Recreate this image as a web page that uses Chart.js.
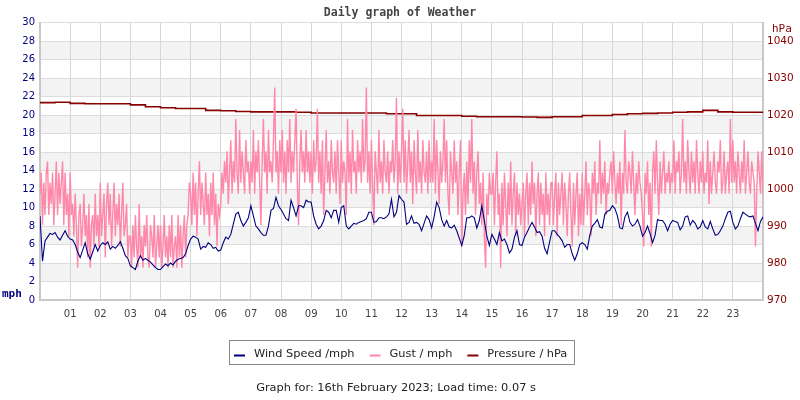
<!DOCTYPE html>
<html>
<head>
<meta charset="utf-8">
<title>Daily graph of Weather</title>
<script src="https://cdn.jsdelivr.net/npm/chart.js@4.4.1/dist/chart.umd.min.js"></script>
<style>
  html, body { margin: 0; padding: 0; background: #fff; }
</style>
</head>
<body>
<canvas id="weatherChart" width="800" height="400"></canvas>
<script>
// wind speed (mph), one reading every 5 minutes from 00:00 to 24:00
const windSpeed = [
    9.1, 4.2, 6.4, 6.8, 7.2, 7.1, 7.3, 6.8, 6.5, 7.0, 7.5, 6.9,
    6.6, 6.5, 6.0, 5.2, 4.6, 5.4, 6.2, 5.0, 4.4, 5.2, 6.0, 5.3,
    5.9, 6.2, 6.0, 6.3, 5.5, 5.8, 5.6, 5.9, 6.3, 5.6, 4.8, 4.5,
    3.7, 3.5, 3.3, 4.2, 4.8, 4.3, 4.5, 4.3, 4.1, 3.8, 3.5, 3.3,
    3.3, 3.6, 3.9, 3.7, 4.0, 3.8, 4.2, 4.4, 4.5, 4.6, 5.0, 5.9,
    6.6, 6.9, 6.8, 6.6, 5.5, 5.8, 5.7, 6.2, 6.0, 5.6, 5.7, 5.3,
    5.4, 6.2, 6.8, 6.6, 7.1, 8.2, 9.3, 9.5, 8.6, 8.0, 8.4, 8.9,
    10.2, 9.1, 8.0, 7.7, 7.3, 7.0, 7.0, 8.0, 9.7, 9.9, 11.1, 10.2,
    9.8, 9.3, 8.8, 8.6, 10.8, 10.0, 9.1, 10.2, 10.2, 10.0, 10.8, 10.6,
    10.6, 9.1, 8.2, 7.7, 8.0, 8.6, 9.7, 9.5, 8.9, 9.7, 9.7, 8.4,
    10.0, 10.2, 8.0, 7.7, 8.0, 8.3, 8.2, 8.4, 8.5, 8.6, 8.8, 9.5,
    9.5, 8.4, 8.5, 8.9, 8.9, 8.8, 9.0, 9.3, 10.9, 9.0, 9.5, 11.3,
    10.9, 10.6, 8.2, 8.4, 9.1, 8.3, 8.4, 8.2, 7.5, 8.3, 9.1, 8.7,
    7.8, 9.0, 10.6, 10.0, 8.7, 8.0, 8.6, 7.9, 7.8, 8.1, 7.5, 6.7,
    5.9, 7.0, 8.9, 8.9, 9.1, 8.9, 7.8, 8.6, 10.2, 8.6, 6.9, 5.9,
    7.1, 6.6, 6.0, 7.3, 6.4, 6.6, 6.0, 5.1, 5.5, 6.8, 7.5, 6.0,
    5.9, 6.8, 7.3, 7.9, 8.4, 7.9, 7.3, 7.4, 6.9, 5.6, 5.0, 6.3,
    7.5, 7.5, 7.1, 6.8, 6.4, 5.7, 6.0, 6.0, 5.0, 4.3, 5.0, 6.0,
    6.2, 6.0, 5.5, 7.0, 8.0, 8.3, 8.7, 7.9, 7.8, 9.3, 9.6, 9.7,
    10.2, 9.9, 9.1, 7.8, 7.7, 9.0, 9.5, 8.4, 8.0, 8.2, 8.7, 8.0,
    6.9, 7.3, 8.0, 7.2, 6.2, 7.0, 8.7, 8.6, 8.6, 8.2, 7.5, 8.2,
    8.6, 8.5, 8.4, 7.6, 8.0, 9.0, 9.1, 8.1, 8.6, 8.3, 7.7, 7.9,
    8.6, 7.9, 7.7, 8.5, 7.7, 7.0, 7.1, 7.5, 8.0, 8.8, 9.5, 9.6,
    8.4, 7.7, 8.0, 8.8, 9.5, 9.3, 9.1, 9.0, 9.1, 8.3, 7.5, 8.5,
    9.0
];

// gusts (mph), one reading every 2.5 minutes
const gustSpeed = [
    11.5, 13.8, 8.1, 12.7, 9.2, 13.8, 15.0, 9.2, 12.7, 10.4, 13.8, 8.1, 11.5, 15.0, 9.2, 13.8, 10.4, 12.7, 15.0, 8.1, 13.8, 9.2, 11.5, 6.9,
    13.8, 9.2, 10.4, 6.9, 11.5, 8.1, 3.5, 9.2, 10.4, 5.8, 8.1, 11.5, 6.9, 9.2, 4.6, 10.4, 3.5, 8.1, 9.2, 5.8, 11.5, 6.9, 9.2, 5.8,
    12.7, 6.9, 9.2, 11.5, 4.6, 10.4, 12.7, 8.1, 11.5, 5.8, 9.2, 12.7, 6.9, 10.4, 8.1, 11.5, 5.8, 9.2, 12.7, 6.9, 8.1, 10.4, 4.6, 6.9,
    6.9, 3.5, 8.1, 4.6, 9.2, 5.8, 3.5, 10.4, 4.6, 6.9, 3.5, 8.1, 5.8, 9.2, 4.6, 3.5, 8.1, 6.9, 4.6, 9.2, 3.5, 5.8, 8.1, 4.6,
    8.1, 3.5, 5.8, 9.2, 4.6, 6.9, 3.5, 8.1, 4.6, 9.2, 3.5, 5.8, 6.9, 3.5, 9.2, 4.6, 8.1, 3.5, 6.9, 9.2, 4.6, 8.1, 9.2, 12.7,
    11.5, 8.1, 13.8, 9.2, 12.7, 6.9, 11.5, 15.0, 9.2, 12.7, 10.4, 8.1, 13.8, 9.2, 11.5, 6.9, 12.7, 9.2, 13.8, 8.1, 11.5, 5.8, 10.4, 9.2,
    10.4, 13.8, 11.5, 15.0, 12.7, 16.1, 10.4, 13.8, 17.3, 11.5, 15.0, 12.7, 19.6, 13.8, 11.5, 18.4, 12.7, 16.1, 13.8, 11.5, 17.3, 13.8, 15.0, 11.5,
    15.0, 12.7, 18.4, 11.5, 16.1, 13.8, 17.3, 12.7, 8.1, 15.0, 19.6, 13.8, 16.1, 11.5, 18.4, 13.8, 15.0, 12.7, 17.3, 23.0, 13.8, 16.1, 11.5, 17.3,
    13.8, 18.4, 12.7, 16.1, 11.5, 17.3, 13.8, 19.6, 12.7, 16.1, 13.8, 17.3, 20.7, 12.7, 8.1, 15.0, 18.4, 13.8, 16.1, 12.7, 18.4, 13.8, 16.1, 12.7,
    16.1, 11.5, 17.3, 13.8, 15.0, 20.7, 12.7, 16.1, 11.5, 17.3, 9.2, 13.8, 18.4, 12.7, 15.0, 11.5, 17.3, 13.8, 12.7, 16.1, 11.5, 17.3, 13.8, 10.4,
    17.3, 12.7, 15.0, 13.8, 9.2, 19.6, 12.7, 16.1, 11.5, 18.4, 13.8, 15.0, 11.5, 17.3, 13.8, 16.1, 12.7, 19.6, 13.8, 15.0, 23.0, 12.7, 16.1, 11.5,
    17.3, 12.7, 8.1, 16.1, 13.8, 11.5, 18.4, 12.7, 15.0, 11.5, 17.3, 13.8, 12.7, 16.1, 11.5, 15.0, 13.8, 17.3, 12.7, 15.0, 21.9, 11.5, 16.1, 12.7,
    16.1, 20.7, 12.7, 17.3, 11.5, 15.0, 18.4, 12.7, 16.1, 10.4, 17.3, 13.8, 11.5, 18.4, 12.7, 15.0, 11.5, 17.3, 13.8, 12.7, 16.1, 11.5, 17.3, 12.7,
    15.0, 12.7, 19.6, 11.5, 17.3, 13.8, 10.4, 16.1, 12.7, 15.0, 19.6, 12.7, 17.3, 11.5, 9.2, 16.1, 13.8, 11.5, 17.3, 12.7, 15.0, 9.2, 13.8, 17.3,
    5.8, 11.5, 13.8, 9.2, 15.0, 10.4, 17.3, 12.7, 19.6, 11.5, 15.0, 9.2, 13.8, 16.1, 10.4, 12.7, 8.1, 13.8, 6.9, 3.5, 11.5, 9.2, 13.8, 11.5,
    11.5, 13.8, 8.1, 12.7, 16.1, 9.2, 11.5, 3.5, 12.7, 8.1, 13.8, 10.4, 6.9, 12.7, 9.2, 15.0, 8.1, 11.5, 13.8, 6.9, 12.7, 9.2, 11.5, 8.1,
    10.4, 12.7, 6.9, 11.5, 13.8, 8.1, 12.7, 9.2, 15.0, 10.4, 12.7, 6.9, 11.5, 13.8, 8.1, 12.7, 9.2, 11.5, 6.9, 13.8, 9.2, 11.5, 8.1, 12.7,
    12.7, 8.1, 11.5, 13.8, 6.9, 12.7, 9.2, 11.5, 13.8, 8.1, 12.7, 10.4, 6.9, 11.5, 13.8, 9.2, 5.8, 12.7, 8.1, 11.5, 13.8, 6.9, 11.5, 8.1,
    13.8, 8.1, 11.5, 15.0, 9.2, 12.7, 11.5, 6.9, 13.8, 11.5, 15.0, 9.2, 12.7, 11.5, 17.3, 10.4, 13.8, 11.5, 15.0, 9.2, 12.7, 11.5, 13.8, 15.0,
    11.5, 16.1, 12.7, 10.4, 13.8, 11.5, 15.0, 8.1, 13.8, 11.5, 18.4, 12.7, 11.5, 15.0, 13.8, 11.5, 16.1, 12.7, 9.2, 13.8, 11.5, 15.0, 12.7, 11.5,
    9.2, 5.8, 13.8, 11.5, 15.0, 9.2, 12.7, 5.8, 13.8, 16.1, 11.5, 17.3, 12.7, 9.2, 15.0, 11.5, 13.8, 16.1, 11.5, 13.8, 12.7, 15.0, 11.5, 13.8,
    12.7, 17.3, 11.5, 15.0, 13.8, 16.1, 11.5, 13.8, 19.6, 12.7, 15.0, 11.5, 17.3, 13.8, 11.5, 16.1, 12.7, 15.0, 11.5, 17.3, 13.8, 11.5, 15.0, 12.7,
    16.1, 11.5, 13.8, 12.7, 17.3, 10.4, 15.0, 11.5, 13.8, 16.1, 12.7, 11.5, 15.0, 13.8, 17.3, 11.5, 12.7, 16.1, 11.5, 13.8, 15.0, 11.5, 19.6, 12.7,
    17.3, 12.7, 15.0, 11.5, 16.1, 13.8, 11.5, 15.0, 12.7, 17.3, 11.5, 13.8, 16.1, 12.7, 11.5, 15.0, 13.8, 12.7, 5.8, 11.5, 16.1, 13.8, 11.5, 16.1,
    11.5
];

// pressure (hPa), one reading every 30 minutes
const pressure = [
    1023.4, 1023.5, 1023.2, 1023.1, 1023.1, 1023.1, 1022.8, 1022.3,
    1022.0, 1021.8, 1021.8, 1021.3, 1021.2, 1021.0, 1020.9, 1020.9,
    1020.9, 1020.8, 1020.6, 1020.6, 1020.6, 1020.6, 1020.6, 1020.4,
    1020.4, 1019.9, 1019.9, 1019.9, 1019.7, 1019.6, 1019.6, 1019.6,
    1019.5, 1019.4, 1019.6, 1019.6, 1019.9, 1019.9, 1020.2, 1020.4,
    1020.5, 1020.6, 1020.8, 1020.9, 1021.3, 1020.9, 1020.8, 1020.8,
    1020.8
];

// hour labels along the bottom
const hourLabels = ['01', '02', '03', '04', '05', '06', '07', '08', '09', '10', '11', '12',
    '13', '14', '15', '16', '17', '18', '19', '20', '21', '22', '23'];

const seriesLabels = ['Wind Speed /mph', 'Gust / mph', 'Pressure / hPa'];
const seriesColors = ['#000080', '#ff88aa', '#880000'];
const footerText = 'Graph for: 16th February 2023; Load time: 0.07 s';

/**
 * turn a list of readings into {x, y} points, x in hours
 */
function toPoints(values, stepHours) {
    return values.map((v, i) => ({ x: i * stepHours, y: v }));
}

// shaded bands, unit labels, legend box and footer
const decorPlugin = {
    id: 'decor',
    beforeDraw(chart) {
        const { ctx, chartArea, scales } = chart;
        ctx.save();
        ctx.fillStyle = '#ffffff';
        ctx.fillRect(0, 0, chart.width, chart.height);
        ctx.fillStyle = '#f3f3f3';
        for (let v = 2; v < 30; v += 4) {
            const top = scales.y.getPixelForValue(v + 2);
            const bottom = scales.y.getPixelForValue(v);
            ctx.fillRect(chartArea.left, top, chartArea.right - chartArea.left, bottom - top);
        }
        ctx.restore();
    },
    afterDraw(chart) {
        const ctx = chart.ctx;
        ctx.save();

        // axis unit labels
        ctx.textBaseline = 'middle';
        ctx.textAlign = 'left';
        ctx.font = 'bold 11px "DejaVu Sans Mono"';
        ctx.fillStyle = '#000080';
        ctx.fillText('mph', 2, 294);
        ctx.font = '11px "DejaVu Sans Mono"';
        ctx.fillStyle = '#880000';
        ctx.fillText('hPa', 772, 29);

        // legend
        ctx.font = '11.35px "DejaVu Sans"';
        const dash = 11, gapText = 9, gapItem = 15;
        const widths = seriesLabels.map(t => ctx.measureText(t).width);
        let inner = 0;
        widths.forEach((w, i) => { inner += dash + gapText + w + (i > 0 ? gapItem : 0); });
        const boxW = Math.round(inner + 12);
        const boxX = Math.round(401 - boxW / 2) + 0.5;
        ctx.strokeStyle = '#888';
        ctx.lineWidth = 1;
        ctx.strokeRect(boxX, 340.5, boxW, 24);
        let x = boxX + 4.5;
        seriesLabels.forEach((t, i) => {
            ctx.fillStyle = seriesColors[i];
            ctx.fillRect(x, 354.5, dash, 2);
            x += dash + gapText;
            ctx.fillStyle = '#222';
            ctx.fillText(t, x, 354);
            x += widths[i] + gapItem;
        });

        // footer
        ctx.textAlign = 'center';
        ctx.fillStyle = '#222';
        ctx.fillText(footerText, 396, 388);
        ctx.restore();
    }
};

const axisBorder = { color: '#c8c8c8', width: 2 };

new Chart(document.getElementById('weatherChart'), {
    type: 'line',
    data: {
        datasets: [{
            label: seriesLabels[0],
            data: toPoints(windSpeed, 1 / 12),
            borderColor: seriesColors[0],
            borderWidth: 1.1,
            pointRadius: 0,
            tension: 0,
            yAxisID: 'y'
        }, {
            label: seriesLabels[1],
            data: toPoints(gustSpeed, 1 / 24),
            borderColor: seriesColors[1],
            borderWidth: 1.4,
            pointRadius: 0,
            tension: 0,
            yAxisID: 'y'
        }, {
            label: seriesLabels[2],
            data: toPoints(pressure, 0.5),
            borderColor: seriesColors[2],
            borderWidth: 1.6,
            pointRadius: 0,
            stepped: true,
            yAxisID: 'y1'
        }]
    },
    options: {
        responsive: false,
        animation: false,
        events: [],
        layout: { padding: { bottom: 70 } },
        plugins: {
            legend: { display: false },
            tooltip: { enabled: false },
            title: {
                display: true,
                text: 'Daily graph of Weather',
                color: '#444',
                font: { family: '"DejaVu Sans Mono"', size: 11.5, weight: 'bold' },
                padding: { top: 6, bottom: 3 }
            }
        },
        scales: {
            x: {
                type: 'linear',
                min: 0,
                max: 24,
                afterFit: s => { s.height = 30; },
                ticks: {
                    stepSize: 1,
                    autoSkip: false,
                    maxRotation: 0,
                    padding: 8,
                    color: '#444',
                    font: { family: '"DejaVu Sans"', size: 10 },
                    callback: v => (v >= 1 && v <= 23) ? hourLabels[v - 1] : ''
                },
                grid: { color: '#d6d6d6', drawTicks: false },
                border: axisBorder
            },
            y: {
                position: 'left',
                min: 0,
                max: 30,
                afterFit: s => { s.width = 40; },
                ticks: {
                    stepSize: 2,
                    padding: 5,
                    color: '#000080',
                    font: { family: '"DejaVu Sans"', size: 10 }
                },
                grid: { color: '#dcdcdc', drawTicks: false },
                border: axisBorder
            },
            y1: {
                position: 'right',
                min: 970,
                max: 1045,
                afterFit: s => { s.width = 37; },
                afterBuildTicks: s => { s.ticks = s.ticks.filter(t => t.value % 10 === 0); },
                ticks: {
                    stepSize: 10,
                    padding: 4,
                    color: '#880000',
                    font: { family: '"DejaVu Sans"', size: 10.5 },
                    callback: v => String(v)
                },
                grid: { drawOnChartArea: false, drawTicks: false },
                border: axisBorder
            }
        }
    },
    plugins: [decorPlugin]
});
</script>
</body>
</html>
